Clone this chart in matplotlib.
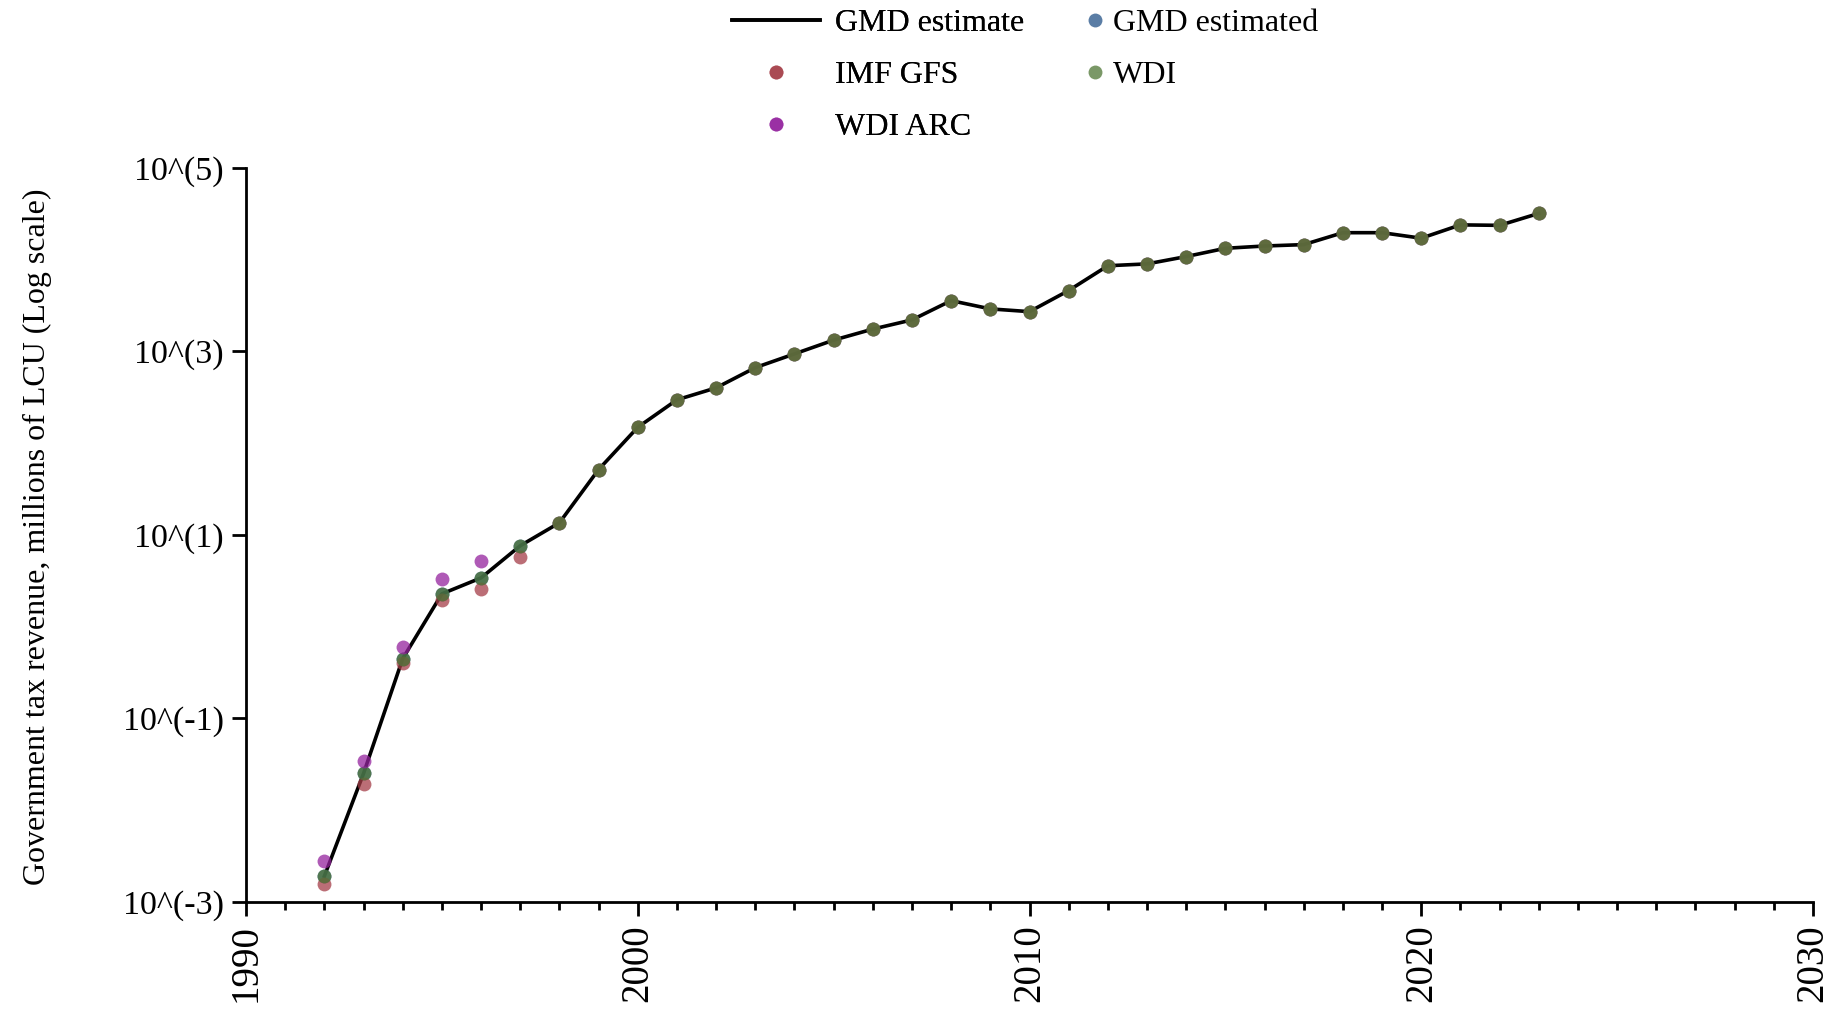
import math
import matplotlib
matplotlib.use("Agg")
import matplotlib.pyplot as plt
from matplotlib.lines import Line2D
from matplotlib.ticker import FixedLocator, MultipleLocator, FuncFormatter

plt.rcParams['font.family'] = ['Liberation Serif', 'DejaVu Serif']

years = list(range(1992, 2024))
gmd_estimate = [0.00191, 0.0251, 0.447, 2.27, 3.39, 7.59, 13.5, 51.3, 148, 295,
                398, 661, 933, 1318, 1738, 2188, 3548, 2884, 2692, 4571,
                8511, 8913, 10715, 13183, 13964, 14454, 19498, 19498, 16982, 23714,
                23442, 31623]
gmd_estimated = list(gmd_estimate)
wdi = list(gmd_estimate)
imf_gfs = [0.00158, 0.0191, 0.398, 1.95, 2.57, 5.75] + gmd_estimate[6:]
arc_years = [1992, 1993, 1994, 1995, 1996]
wdi_arc = [0.00282, 0.0347, 0.603, 3.31, 5.13]

c_blue = (35/255, 82/255, 135/255)
c_red = (165/255, 62/255, 72/255)
c_green = (78/255, 118/255, 52/255)
c_purple = (148/255, 35/255, 158/255)
ALPHA = 0.75
MS = 10

W, H = 1837, 1010
fig = plt.figure(figsize=(W/100, H/100), dpi=100)
ax = fig.add_axes([246/W, 1-902/H, (1813-246)/W, (902-167.5)/H])

ax.plot(years, gmd_estimate, color='black', lw=2.6, zorder=2)
ax.plot(years, gmd_estimated, 'o', color=c_blue, alpha=ALPHA, ms=MS, mew=0, zorder=3)
ax.plot(years, imf_gfs, 'o', color=c_red, alpha=ALPHA, ms=MS, mew=0, zorder=4)
ax.plot(years, wdi, 'o', color=c_green, alpha=ALPHA, ms=MS, mew=0, zorder=5)
ax.plot(arc_years, wdi_arc, 'o', color=c_purple, alpha=ALPHA, ms=MS, mew=0, zorder=6)

ax.set_yscale('log')
ax.set_ylim(1e-3, 1e5)
ax.set_xlim(1990, 2030)
ax.yaxis.set_major_locator(FixedLocator([1e-3, 1e-1, 1e1, 1e3, 1e5]))
ax.yaxis.set_minor_locator(FixedLocator([]))
ax.yaxis.set_major_formatter(FuncFormatter(lambda v, p: "10^(%d)" % round(math.log10(v))))
ax.xaxis.set_major_locator(MultipleLocator(10))
ax.xaxis.set_minor_locator(MultipleLocator(1))

for s in ['top', 'right']:
    ax.spines[s].set_visible(False)
for s in ['left', 'bottom']:
    ax.spines[s].set_linewidth(2)

ax.tick_params(axis='both', which='major', length=10, width=2, direction='out')
ax.tick_params(axis='x', which='minor', length=6, width=2, direction='out')
ax.tick_params(axis='y', labelsize=24.5, pad=6)
ax.tick_params(axis='x', labelsize=28, labelrotation=90, pad=6)

ax.set_ylabel("Government tax revenue, millions of LCU (Log scale)", fontsize=23)
ax.yaxis.set_label_coords(-0.1235, 0.497)

h_line = Line2D([], [], color='black', lw=2.6)
h_imf = Line2D([], [], ls='none', marker='o', color=c_red, alpha=ALPHA, ms=MS, mew=0)
h_arc = Line2D([], [], ls='none', marker='o', color=c_purple, alpha=ALPHA, ms=MS, mew=0)
h_gmd = Line2D([], [], ls='none', marker='o', color=c_blue, alpha=ALPHA, ms=MS, mew=0)
h_wdi = Line2D([], [], ls='none', marker='o', color=c_green, alpha=ALPHA, ms=MS, mew=0)

fs = 23
em = fs * 100 / 72
leg1 = fig.legend([h_line, h_imf, h_arc], ["GMD estimate", "IMF GFS", "WDI ARC"],
                  loc='upper left', bbox_to_anchor=(732/W, 1-9/H), frameon=False,
                  fontsize=fs, borderpad=0, borderaxespad=0, handlelength=88/em,
                  handletextpad=15/em, labelspacing=0.7)
fig.add_artist(leg1)
leg2 = fig.legend([h_gmd, h_wdi], ["GMD estimated", "WDI"],
                  loc='upper left', bbox_to_anchor=(1085.5/W, 1-9/H), frameon=False,
                  fontsize=fs, borderpad=0, borderaxespad=0, handlelength=0.6,
                  handletextpad=(1113-1085.5-0.6*em)/em, labelspacing=0.7)

fig.savefig("out.png", dpi=100)
